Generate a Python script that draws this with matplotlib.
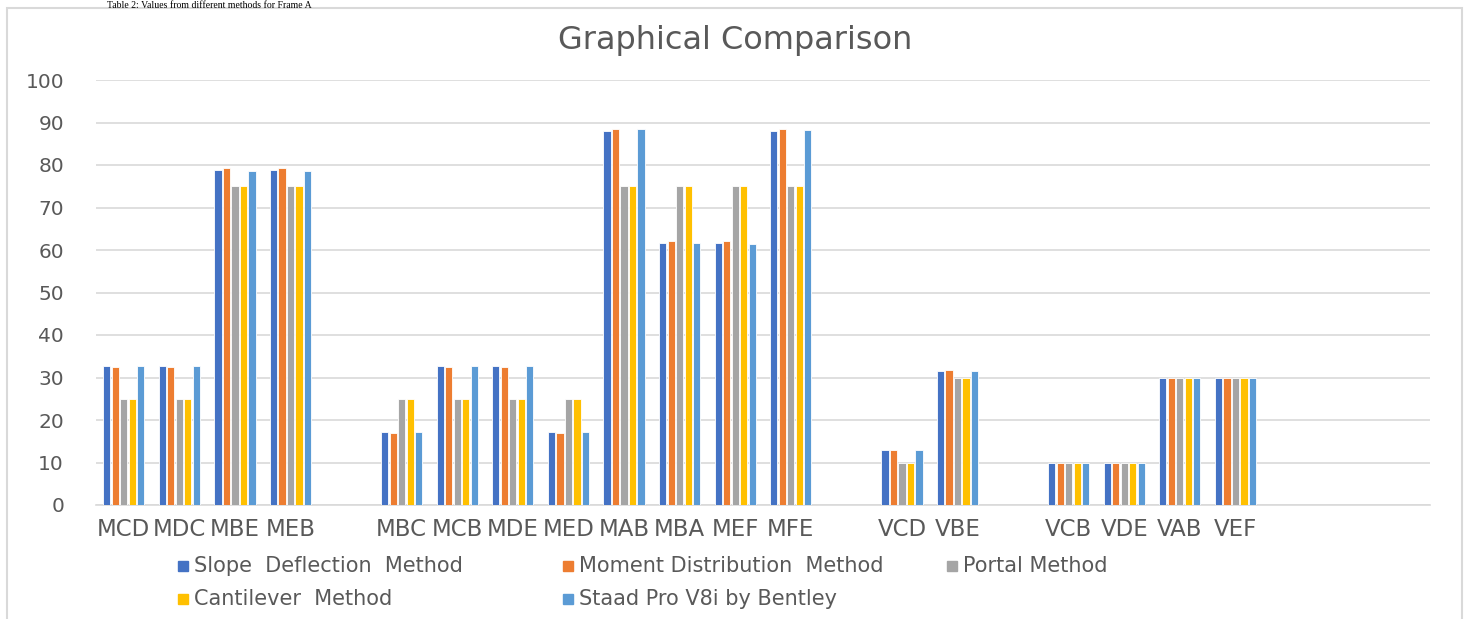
import numpy as np
import matplotlib.pyplot as plt
from matplotlib.patches import Rectangle

# ---------------------------
# Dados
# ---------------------------
nan = np.nan

categorias = ['MCD', 'MDC', 'MBE', 'MEB', '', 'MBC', 'MCB', 'MDE', 'MED',
              'MAB', 'MBA', 'MEF', 'MFE', '', 'VCD', 'VBE', '', 'VCB',
              'VDE', 'VAB', 'VEF', '', '', '']

slope_deflection = [32.7, 32.7, 78.9, 78.9, nan, 17.1, 32.7, 32.7, 17.1,
                    87.9, 61.6, 61.6, 87.9, nan, 13.0, 31.5, nan, 10, 10,
                    30, 30, nan, nan, nan]
moment_distribution = [32.5, 32.5, 79.3, 79.3, nan, 16.9, 32.5, 32.5, 16.9,
                       88.4, 62.1, 62.1, 88.4, nan, 13.0, 31.8, nan, 10, 10,
                       30, 30, nan, nan, nan]
portal = [25, 25, 75, 75, nan, 25, 25, 25, 25,
          75, 75, 75, 75, nan, 10, 30, nan, 10, 10,
          30, 30, nan, nan, nan]
cantilever = [25, 25, 75, 75, nan, 25, 25, 25, 25,
              75, 75, 75, 75, nan, 10, 30, nan, 10, 10,
              30, 30, nan, nan, nan]
staad_pro = [32.7, 32.7, 78.7, 78.7, nan, 17.1, 32.7, 32.7, 17.1,
             88.4, 61.6, 61.4, 88.2, nan, 13.0, 31.5, nan, 10, 10,
             30, 30, nan, nan, nan]

series_nomes = ['Slope  Deflection  Method', 'Moment Distribution  Method',
                'Portal Method', 'Cantilever  Method', 'Staad Pro V8i by Bentley']
series_valores = [slope_deflection, moment_distribution, portal, cantilever, staad_pro]
cores = ['#4472C4', '#ED7D31', '#A5A5A5', '#FFC000', '#5B9BD5']

yticks = [0, 10, 20, 30, 40, 50, 60, 70, 80, 90, 100]

# ---------------------------
# Gráfico
# ---------------------------
W, H = 1464, 619
fig = plt.figure(figsize=(W / 100, H / 100), dpi=100)
plt.rcParams['font.family'] = ['DejaVu Sans']
cinza_texto = '#595959'

# moldura do gráfico
fig.patches.append(Rectangle((7 / W, -0.05), (1462 - 7) / W, 1.05 - 8 / H,
                             transform=fig.transFigure, fill=False,
                             edgecolor='#d9d9d9', linewidth=1.5))

# legenda da tabela no topo
fig.text(107 / W, 1 - 0.5 / H, 'Table 2: Values from different methods for Frame A',
         family='Liberation Serif', fontsize=7, color='black', va='top')

ax = fig.add_axes([96 / W, 1 - 505 / H, (1430 - 96) / W, (505 - 80) / H])

x = np.arange(len(categorias))
passo = 0.153
largura = 0.13
for i, (nome, valores, cor) in enumerate(zip(series_nomes, series_valores, cores)):
    ax.bar(x + (i - 2) * passo, valores, width=largura, color=cor,
           edgecolor='white', linewidth=0.6, label=nome, zorder=3)

ax.set_xlim(-0.5, len(categorias) - 0.5)
ax.set_ylim(0, 100)
ax.set_yticks(yticks)
ax.set_xticks(x)
ax.set_xticklabels(categorias)
ax.grid(axis='y', color='#d9d9d9', linewidth=1.2, zorder=0)
for lado in ['top', 'right', 'left']:
    ax.spines[lado].set_visible(False)
ax.spines['bottom'].set_color('#d9d9d9')
ax.spines['bottom'].set_linewidth(1.2)
ax.tick_params(axis='both', length=0, colors=cinza_texto)
ax.tick_params(axis='y', labelsize=14.5, pad=23)
ax.tick_params(axis='x', labelsize=16.5, pad=9)

fig.text(735 / W, 1 - 41 / H, 'Graphical Comparison', ha='center', va='center',
         fontsize=23, color=cinza_texto)

# legenda manual (layout do Excel)
posicoes = [(178, 566), (563, 566), (947, 566), (178, 599), (563, 599)]
for (px, py), nome, cor in zip(posicoes, series_nomes, cores):
    fig.patches.append(Rectangle((px / W, 1 - (py + 5) / H), 10 / W, 10 / H,
                                 transform=fig.transFigure, color=cor))
    fig.text((px + 16) / W, 1 - py / H, nome, va='center', fontsize=15,
             color=cinza_texto)

fig.savefig('out.png', dpi=100)
